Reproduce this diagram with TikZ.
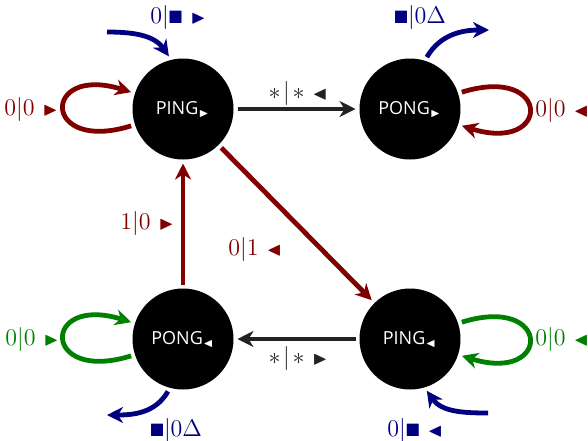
\documentclass[tikz,border=0pt]{standalone}
\usepackage{amssymb}
\usepackage{fontspec}
\newfontfamily\statefont{Open Sans}
\usetikzlibrary{arrows.meta}

\definecolor{loopred}{RGB}{128,0,0}
\definecolor{loopgreen}{RGB}{0,128,0}
\definecolor{ionavy}{RGB}{0,0,128}
\definecolor{edgegray}{RGB}{34,34,34}

% small direction marker and bullet square used inside the labels
\newcommand{\tri}[1]{\ \hbox{\fontsize{9.5}{10}\selectfont$#1$}}
\newcommand{\sq}{\hbox{\fontsize{9}{10}\selectfont$\blacksquare$}}
\newcommand{\anyio}{{*}\mkern2mu|\mkern2mu{*}}

\tikzset{
  state/.style={circle, fill=black, minimum size=50.5pt, inner sep=0pt,
    outer sep=2pt, text=white, font=\statefont\fontsize{9}{10}\selectfont},
  trans/.style={line width=2.4pt,
    -{Stealth[length=8pt,width=8pt,inset=2.5pt]}},
  lbl/.style={font=\fontsize{12.5}{14}\selectfont, inner sep=0pt},
}

\begin{document}
\begin{tikzpicture}[x=0.5pt,y=-0.5pt]
  \useasboundingbox (0,0) rectangle (588,440);

  % states
  \node[state] (pingR) at (183,109) {PING$_{\scriptscriptstyle\blacktriangleright}$};
  \node[state] (pongR) at (410,109) {PONG$_{\scriptscriptstyle\blacktriangleright}$};
  \node[state] (pongL) at (183,339) {PONG$_{\scriptscriptstyle\blacktriangleleft}$};
  \node[state] (pingL) at (410,339) {PING$_{\scriptscriptstyle\blacktriangleleft}$};

  % free ends of the input/output arrows
  \coordinate (inR)  at (107,32);
  \coordinate (outR) at (489,30);
  \coordinate (outL) at (107,415);
  \coordinate (inL)  at (488,413);

  % transitions between states
  \draw[trans, edgegray] (pingR) -- (pongR);
  \draw[trans, edgegray] (pingL) -- (pongL);
  \draw[trans, loopred] (pongL) -- (pingR);
  \draw[trans, loopred] (pingR) -- (pingL);

  % self loops
  \draw[trans, loopred] (pingR.198) .. controls +(-90,28) and +(-90,-28) .. (pingR.162);
  \draw[trans, loopred] (pongR.18) .. controls +(90,-28) and +(90,28) .. (pongR.-18);
  \draw[trans, loopgreen] (pongL.198) .. controls +(-90,28) and +(-90,-28) .. (pongL.162);
  \draw[trans, loopgreen] (pingL.18) .. controls +(90,-28) and +(90,28) .. (pingL.-18);

  % inputs and outputs
  \draw[trans, ionavy] (inR) to[out=0, in=125] (pingR.105);
  \draw[trans, ionavy] (pongR.72) to[out=60, in=180] (outR);
  \draw[trans, ionavy] (pongL.254) to[out=240, in=0] (outL);
  \draw[trans, ionavy] (inL) to[out=180, in=-55] (pingL.288);

  % labels
  \node[lbl, text=ionavy] (lInR) at (178,17) {$0|\sq\tri\blacktriangleright$};
  \node[lbl, text=ionavy] (lOutR) at (420,17) {$\sq|0\Delta$};
  \node[lbl, text=loopred] (lLoopPingR) at (31,109) {$0|0\tri\blacktriangleright$};
  \node[lbl, text=loopred] (lLoopPongR) at (562,110) {$0|0\tri\blacktriangleleft$};
  \node[lbl, text=edgegray] (lTop) at (298,93) {$\anyio\tri\blacktriangleleft$};
  \node[lbl, text=loopred] (lUp) at (147,223) {$1|0\tri\blacktriangleright$};
  \node[lbl, text=loopred] (lDiag) at (255,249) {$0|1\tri\blacktriangleleft$};
  \node[lbl, text=edgegray] (lBottom) at (298,358) {$\anyio\tri\blacktriangleright$};
  \node[lbl, text=loopgreen] (lLoopPongL) at (32,339) {$0|0\tri\blacktriangleright$};
  \node[lbl, text=loopgreen] (lLoopPingL) at (562,339) {$0|0\tri\blacktriangleleft$};
  \node[lbl, text=ionavy] (lOutL) at (176,430) {$\sq|0\Delta$};
  \node[lbl, text=ionavy] (lInL) at (415,430) {$0|\sq\tri\blacktriangleleft$};
\end{tikzpicture}
\end{document}
